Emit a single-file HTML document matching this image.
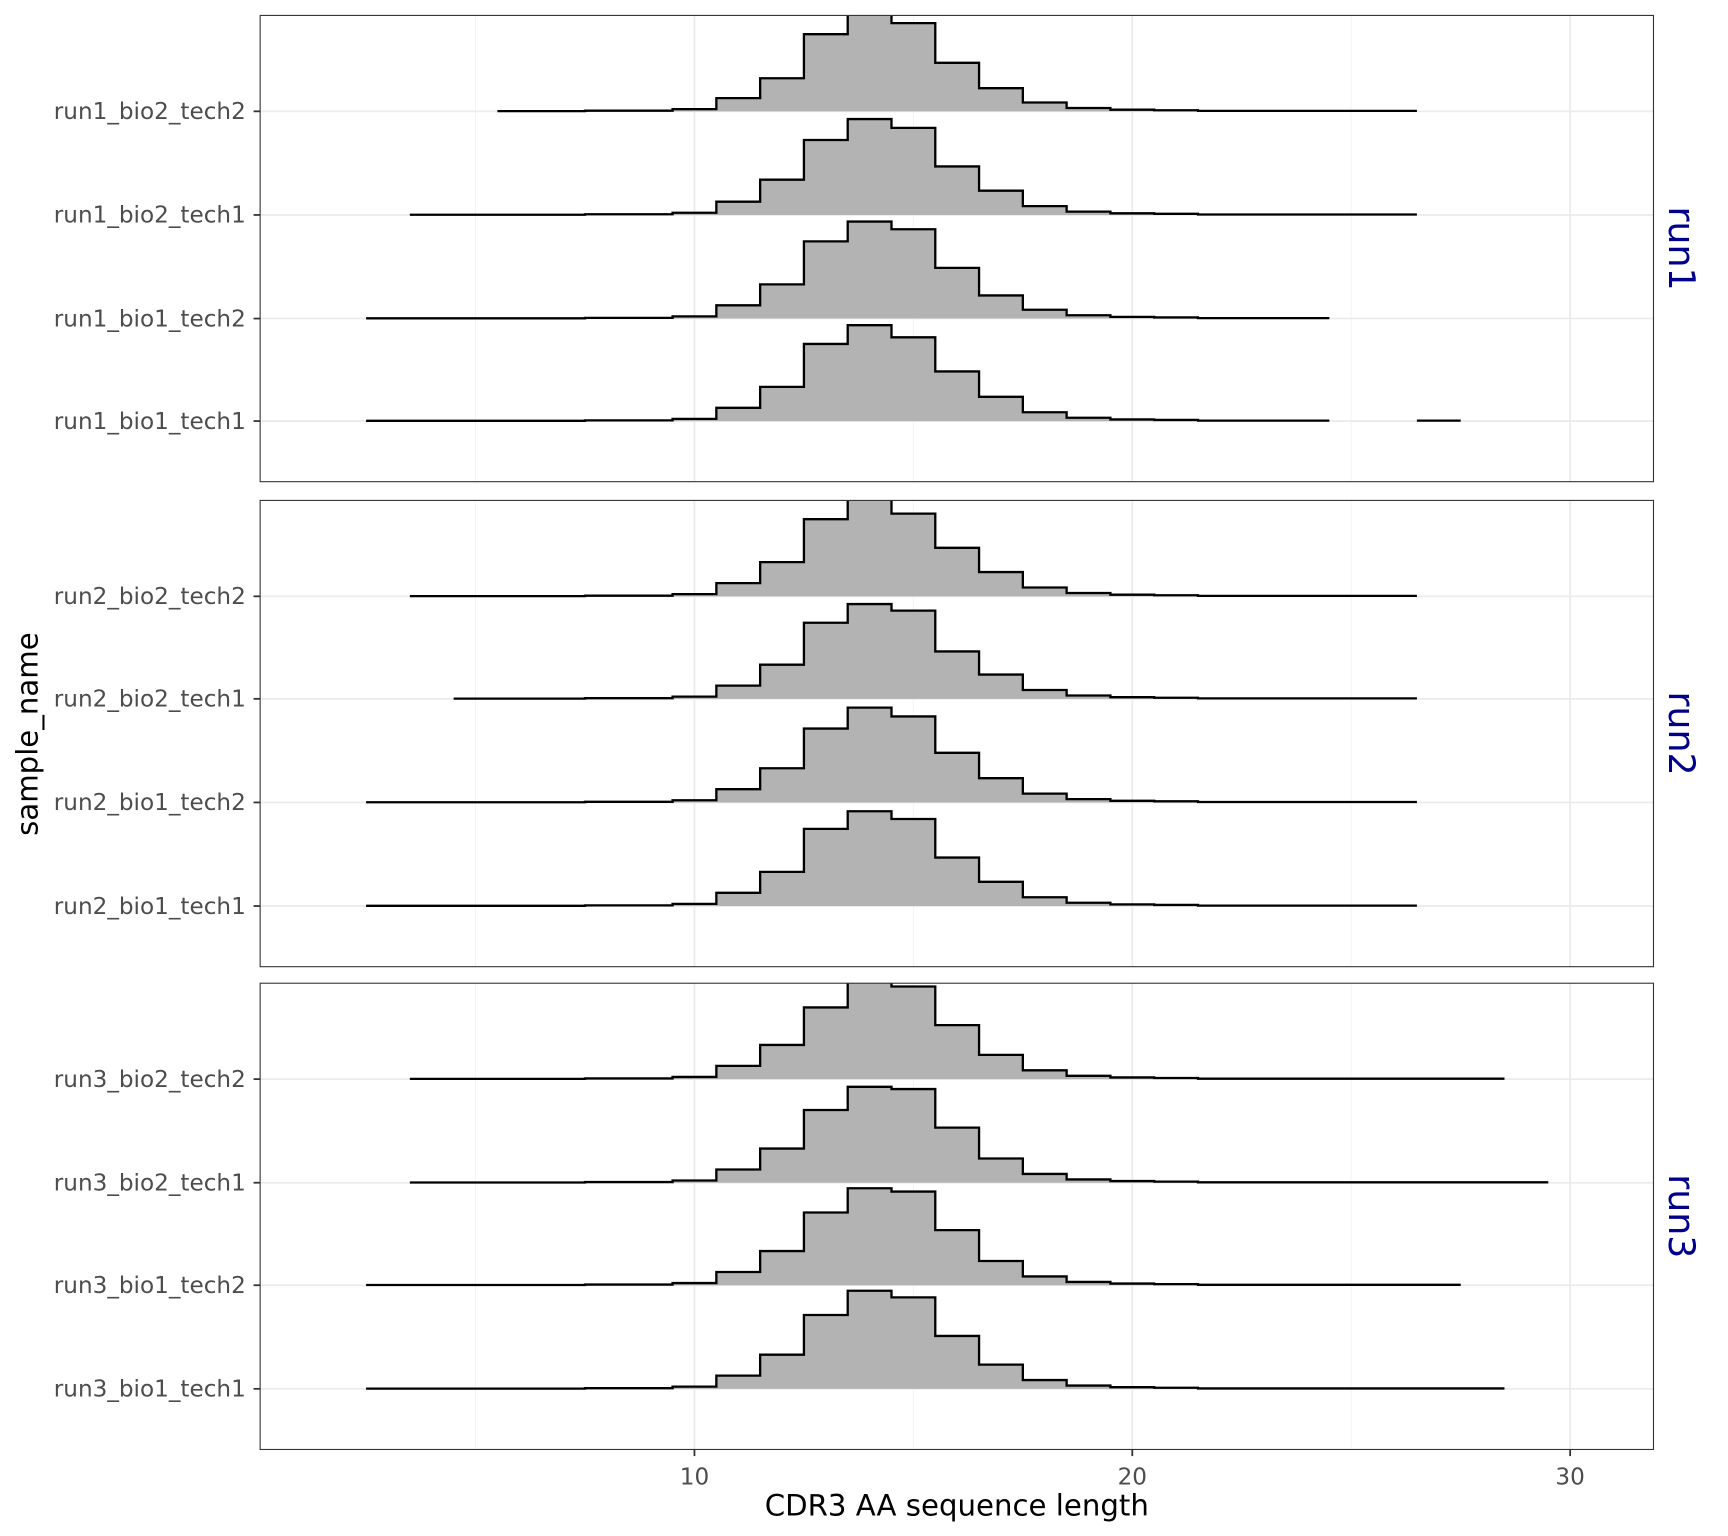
<!DOCTYPE html>
<html><head><meta charset="utf-8"><style>
html,body{margin:0;padding:0;background:#fff}
svg{display:block}
text{font-family:"DejaVu Sans","Liberation Sans",sans-serif}
</style></head><body>
<svg id="s" width="1728" height="1536" viewBox="0 0 1567.6 1393.5" preserveAspectRatio="none" xmlns="http://www.w3.org/2000/svg"></svg>
<script>
const s=document.getElementById('s');
const X=v=>630+(v-10)*39.72;
let out='';
const panels=[[14,437,'run1'],[454,877,'run2'],[892,1315,'run3']];
const rows=[
 [0,101,'run1_bio2_tech2',5.5,26.5,{13:70,14:92,15:80,16:44,17:21,12:30}],
 [0,195,'run1_bio2_tech1',3.5,26.5,{13:68,14:87,15:79,16:44,17:22,12:32}],
 [0,289,'run1_bio1_tech2',2.5,24.5,{13:70,14:88,15:81,16:46,17:21}],
 [0,382,'run1_bio1_tech1',2.5,24.5,{13:70,14:87,15:76,16:45,17:22}],
 [1,541,'run2_bio2_tech2',3.5,26.5,{13:70,14:92,15:75,16:44}],
 [1,634,'run2_bio2_tech1',4.5,26.5,{13:69,14:86,15:80,16:43}],
 [1,728,'run2_bio1_tech2',2.5,26.5,{13:67,14:86,15:78,16:45}],
 [1,822,'run2_bio1_tech1',2.5,26.5,{13:70,14:86,15:79,16:44}],
 [2,979,'run3_bio2_tech2',3.5,28.5,{13:65,14:92,15:84,16:49}],
 [2,1073,'run3_bio2_tech1',3.5,29.5,{13:66,14:87,15:85,16:50}],
 [2,1166,'run3_bio1_tech2',2.5,27.5,{13:66,14:88,15:85,16:50}],
 [2,1260,'run3_bio1_tech1',2.5,28.5,{13:67,14:89,15:83,16:48}]
];
const base={10:2,11:12,12:31,13:70,14:87,15:78,16:45,17:22,18:8,19:3,20:1.5,21:1};
function H(v,o){if(o[v]!==undefined)return o[v];if(base[v]!==undefined)return base[v];if(v<8)return 0.2;if(v<10)return 0.6;return 0.4;}
panels.forEach((p,i)=>{
 const [t,b,l]=p;
 out+=`<clipPath id="c${i}"><rect x="236" y="${t}" width="1264" height="${b-t}"/></clipPath>`;
 out+=`<g stroke="#f3f3f3" stroke-width="0.8">`;
 [5,15,25].forEach(v=>out+=`<line x1="${X(v)}" x2="${X(v)}" y1="${t}" y2="${b}"/>`);
 out+=`</g><g stroke="#ebebeb" stroke-width="1.6">`;
 [10,20,30].forEach(v=>out+=`<line x1="${X(v)}" x2="${X(v)}" y1="${t}" y2="${b}"/>`);
 rows.filter(r=>r[0]==i).forEach(r=>out+=`<line x1="236" x2="1500" y1="${r[1]}" y2="${r[1]}"/>`);
 out+=`</g><g clip-path="url(#c${i})">`;
 rows.filter(r=>r[0]==i).forEach(r=>{
  const [pi,y0,lab,st,en,o]=r;
  const segs=[[st,en]];
  if(lab==='run1_bio1_tech1')segs.push([26.5,27.5]);
  segs.forEach(([a,e])=>{
   let d=`M${X(a)},${y0}`;let line='';
   for(let v=a+0.5;v<e;v++){const h=H(v,o);d+=`L${X(v-0.5)},${y0-h}L${X(v+0.5)},${y0-h}`;line+=(line?'L':'M')+`${X(v-0.5)},${y0-h}L${X(v+0.5)},${y0-h}`;}
   d+=`L${X(e)},${y0}Z`;
   out+=`<path d="${d}" fill="#b3b3b3"/><path d="${line}" fill="none" stroke="#000" stroke-width="2.1"/>`;
  });
 });
 out+=`</g><rect x="236" y="${t}" width="1264" height="${b-t}" fill="none" stroke="#333" stroke-width="1"/>`;
 out+=`<text transform="translate(1514,${(t+b)/2}) rotate(90)" text-anchor="middle" font-size="33" fill="#00008B">${l}</text>`;
});
rows.forEach(r=>{
 out+=`<line x1="230" x2="236" y1="${r[1]}" y2="${r[1]}" stroke="#333" stroke-width="1.6"/>`;
 out+=`<text x="223" y="${r[1]+7}" text-anchor="end" font-size="21" fill="#4d4d4d">${r[2]}</text>`;
});
[10,20,30].forEach(v=>{
 out+=`<line x1="${X(v)}" x2="${X(v)}" y1="1315" y2="1321" stroke="#333" stroke-width="1.6"/>`;
 out+=`<text x="${X(v)}" y="1347" text-anchor="middle" font-size="21" fill="#4d4d4d">${v}</text>`;
});
out+=`<text x="868" y="1375" text-anchor="middle" font-size="26.5" fill="#000">CDR3 AA sequence length</text>`;
out+=`<text transform="translate(34,666) rotate(-90)" text-anchor="middle" font-size="26.5" fill="#000">sample_name</text>`;
s.innerHTML=out;
</script>
</body></html>
